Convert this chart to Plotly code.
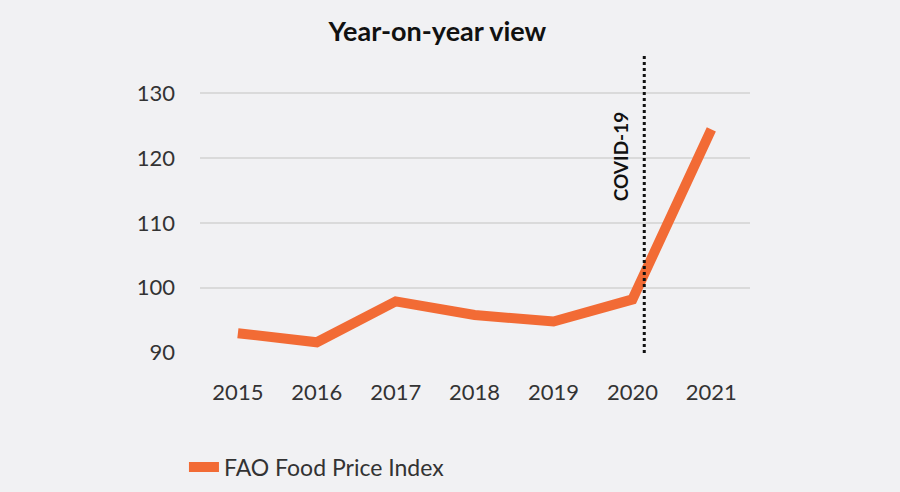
import plotly.graph_objects as go

years = [2015, 2016, 2017, 2018, 2019, 2020, 2021]
fao_index = [93.0, 91.6, 97.9, 95.8, 94.8, 98.2, 124.4]
y_ticks = [90, 100, 110, 120, 130]
covid_x = 2020.15
series_name = "FAO Food Price Index"
title_text = "Year-on-year view"
covid_label = "COVID-19"

orange = "#F26B35"
bg = "#F1F1F3"
font_family = "Lato, 'Open Sans', sans-serif"

fig = go.Figure()
fig.add_trace(go.Scatter(
    x=years, y=fao_index, mode="lines", name=series_name,
    line=dict(color=orange, width=10),
))

fig.add_shape(type="line", xref="x", yref="paper", x0=covid_x, x1=covid_x, y0=0, y1=1,
              line=dict(color="#111111", width=3, dash="dot"))
fig.add_annotation(x=covid_x, xref="x", y=120.2, yref="y", text="<b>" + covid_label + "</b>",
                   textangle=-90, showarrow=False, xanchor="right", xshift=-10,
                   font=dict(family=font_family, size=19, color="#111111"))

fig.update_layout(
    width=900, height=492,
    paper_bgcolor=bg, plot_bgcolor=bg,
    margin=dict(l=200, r=150, t=55, b=139),
    title=dict(text="<b>" + title_text + "</b>", x=0.486, xanchor="center", y=0.935, yanchor="middle",
               font=dict(family=font_family, size=27, color="#111111")),
    font=dict(family=font_family, size=22, color="#333333"),
    showlegend=True,
    legend=dict(orientation="h", xref="container", yref="container", x=0.2044, xanchor="left",
                y=0.0508, yanchor="middle",
                font=dict(size=23, color="#333333"), bgcolor="rgba(0,0,0,0)"),
    xaxis=dict(range=[2014.52, 2021.49], tickmode="array", tickvals=years,
               ticktext=[str(y) for y in years], showgrid=False, zeroline=False,
               showline=False, ticks="", ticklabelstandoff=24,
               tickfont=dict(size=22, color="#333333")),
    yaxis=dict(range=[89.95, 135.85], tickmode="array", tickvals=y_ticks,
               showgrid=True, gridcolor="#DADADA", gridwidth=2, zeroline=False,
               showline=False, ticks="", ticklabelstandoff=24,
               tickfont=dict(size=22, color="#333333")),
)

fig.write_html("out.html", config={"displayModeBar": False},
               post_script="document.body.style.margin='0';document.body.style.background='#F1F1F3';")
